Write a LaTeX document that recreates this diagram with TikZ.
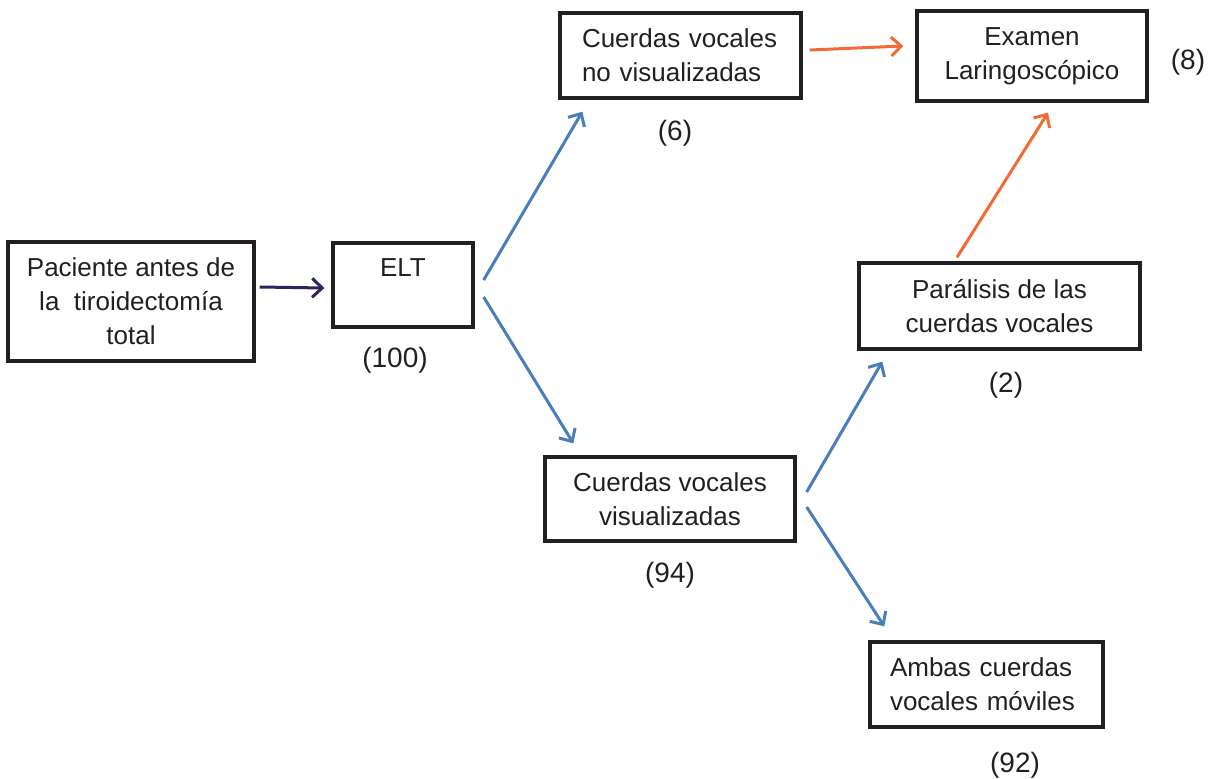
\documentclass[tikz,border=0pt]{standalone}
\usepackage{fontspec}
\setmainfont{Liberation Sans}
\usetikzlibrary{arrows.meta}
\definecolor{boxline}{HTML}{231F20}
\definecolor{arrblue}{HTML}{4A7EBB}
\definecolor{arrorange}{HTML}{F26B35}
\definecolor{arrnavy}{HTML}{28285E}
\begin{document}
\begin{tikzpicture}[x=0.5pt,y=-0.5pt,
  every node/.style={font=\fontsize{13}{17}\selectfont, text=boxline},
  box/.style={draw=boxline, line width=1.65pt, rectangle, inner sep=0pt, align=center},
  cnt/.style={inner sep=0pt, font=\fontsize{14}{17}\selectfont},
  conn/.style={line width=1.5pt, -{Straight Barb[length=5pt,width=9.5pt,line width=1.5pt]}}
]
\useasboundingbox (0,0) rectangle (1217,778);

\node[box, minimum width=123pt, minimum height=59.5pt] (pac) at (131,301.5)
  {Paciente antes de\\la~~tiroidectomía\\total};
\node[box, minimum width=70pt, minimum height=42pt] (elt) at (403,285) {ELT\\\mbox{}};
\node[box, align=left, text width=98.5pt, inner xsep=11pt, minimum height=42.5pt] (novis) at (680.5,55.5)
  {Cuerdas vocales\\no visualizadas};
\node[box, minimum width=115pt, minimum height=45pt] (exam) at (1032,56)
  {Examen\\Laringoscópico};
\node[box, minimum width=140.5pt, minimum height=43pt] (par) at (999.5,306)
  {Parálisis de las\\cuerdas vocales};
\node[box, minimum width=125pt, minimum height=42pt] (vis) at (670,499)
  {Cuerdas vocales\\visualizadas};
\node[box, align=left, text width=96.5pt, inner xsep=10pt, minimum height=42.5pt] (amb) at (986.5,684.5)
  {Ambas cuerdas\\vocales móviles};

\node[cnt] (n100) at (395,360) {(100)};
\node[cnt] (n6) at (675,133) {(6)};
\node[cnt] (n8) at (1188,62) {(8)};
\node[cnt] (n2) at (1006,385) {(2)};
\node[cnt] (n94) at (670,575) {(94)};
\node[cnt] (n92) at (1015,765) {(92)};

\draw[conn, arrnavy] ([shift={(4,-14.5)}]pac.east) -- ([shift={(-7,3)}]elt.west);
\draw[conn, arrblue] ([shift={(9,-5)}]elt.east) -- ([shift={(24,12)}]novis.south west);
\draw[conn, arrblue] ([shift={(9,12)}]elt.east) -- ([shift={(30,-12)}]vis.north west);
\draw[conn, arrorange] ([shift={(7,-5.5)}]novis.east) -- ([shift={(-12,-10)}]exam.west);
\draw[conn, arrorange] ([shift={(-42.5,-4)}]par.north) -- ([shift={(16,10)}]exam.south);
\draw[conn, arrblue] ([shift={(10,-7)}]vis.east) -- ([shift={(25,11)}]par.south west);
\draw[conn, arrblue] ([shift={(10,8)}]vis.east) -- ([shift={(16,-14)}]amb.north west);
\end{tikzpicture}
\end{document}
